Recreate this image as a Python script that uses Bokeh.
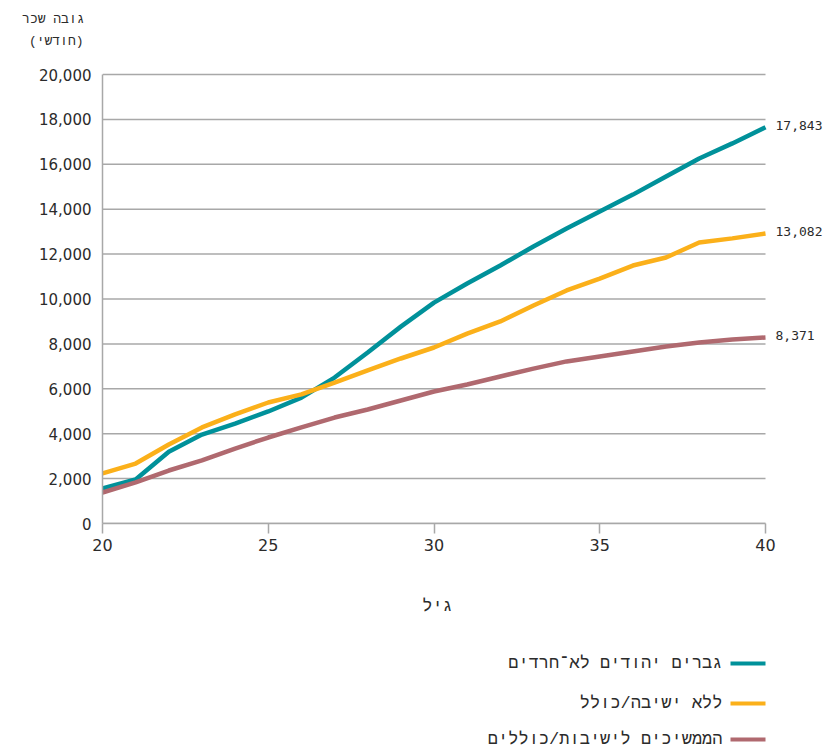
from bokeh.plotting import figure
from bokeh.models import Label, NumeralTickFormatter, FixedTicker, Range1d
from bokeh.layouts import column
from bokeh.core.properties import value
from bokeh.embed import file_html
from bokeh.resources import INLINE

# ---------------- data ----------------
ages = list(range(20, 41))
non_haredi = [1560, 1960, 3200, 3960, 4450, 4990, 5610, 6500, 7620, 8770, 9840,
              10690, 11490, 12340, 13140, 13900, 14650, 15460, 16260, 16930, 17650]
no_yeshiva = [2230, 2670, 3520, 4280, 4860, 5390, 5750, 6280, 6820, 7350, 7840,
              8460, 9000, 9710, 10380, 10910, 11490, 11850, 12520, 12700, 12920]
yeshiva = [1380, 1830, 2360, 2810, 3340, 3830, 4280, 4720, 5080, 5480, 5880,
           6190, 6550, 6900, 7220, 7440, 7660, 7880, 8060, 8200, 8285]
end_labels = ["17,843", "13,082", "8,371"]
series_names = ["גברים יהודים לא־חרדים", "ללא ישיבה/כולל", "הממשיכים לישיבות/כוללים"]
colors = ["#00919A", "#FBB01A", "#B0696F"]
y_title_lines = ["גובה שכר", "(חודשי)"]
x_title = "גיל"
y_ticks = list(range(0, 20001, 2000))
x_ticks = [20, 25, 30, 35, 40]

W = 826
TEXT = "#2b2b2b"
GRAY = "#A8A8A8"
MONO = "DejaVu Sans Mono"
HEB = "Liberation Mono"

def blank(h):
    f = figure(width=W, height=h, output_backend="svg", toolbar_location=None,
               x_range=Range1d(0, W), y_range=Range1d(h, 0),
               x_axis_location=None, y_axis_location=None,
               min_border=0, min_border_left=0, min_border_right=0,
               min_border_top=0, min_border_bottom=0)
    f.outline_line_color = None
    f.grid.visible = False
    f.frame_align = False
    return f

# ---------------- header (y title) ----------------
header = blank(60)
header.text(x=[84, 83], y=[19, 41], text=y_title_lines, text_align="right",
            text_baseline="middle", text_font=value(HEB), text_font_size="13px",
            text_color=TEXT)

# ---------------- main plot ----------------
px_per_year = (765 - 102) / 20.0
px_per_unit = 449 / 20000.0
x_end = 40 + (W - 765) / px_per_year
y_end = 20000 + 10 / px_per_unit

p = figure(width=W, height=530, output_backend="svg", toolbar_location=None,
           x_range=Range1d(20, x_end), y_range=Range1d(0, y_end),
           min_border_left=102, min_border_right=0, min_border_top=4, min_border_bottom=67)
p.outline_line_color = None
p.grid.visible = False
p.frame_align = False

# horizontal grid lines, drawn over the age span only
p.segment(x0=[20] * len(y_ticks), x1=[40] * len(y_ticks), y0=y_ticks, y1=y_ticks,
          line_color=GRAY, line_width=1.5)

p.yaxis.ticker = FixedTicker(ticks=y_ticks)
p.xaxis.ticker = FixedTicker(ticks=x_ticks)
p.yaxis.formatter = NumeralTickFormatter(format="0,0")
p.xaxis.bounds = (20, 40)
p.yaxis.bounds = (0, 20000)
for ax in (p.xaxis, p.yaxis):
    ax.axis_line_color = GRAY
    ax.axis_line_width = 1.5
    ax.major_tick_line_color = GRAY
    ax.major_tick_line_width = 1.5
    ax.minor_tick_line_color = None
    ax.major_label_text_font = "DejaVu Sans"
    ax.major_label_text_color = TEXT
p.yaxis.major_label_text_font_size = "15px"
p.xaxis.major_label_text_font_size = "16px"
p.yaxis.major_tick_out = 0
p.yaxis.major_tick_in = 0
p.yaxis.major_label_standoff = 11
p.xaxis.major_tick_out = 10
p.xaxis.major_tick_in = 0
p.xaxis.major_label_standoff = 5

for vals, col, lab in zip([non_haredi, no_yeshiva, yeshiva], colors, end_labels):
    p.line(ages, vals, line_color=col, line_width=4.5)
    p.add_layout(Label(x=ages[-1], y=vals[-1], text=lab, x_offset=10, y_offset=2,
                       text_baseline="middle", text_font=MONO,
                       text_font_size="13px", text_color=TEXT))

# ---------------- footer (x title + legend) ----------------
footer = blank(158)
footer.text(x=[437], y=[16], text=[x_title], text_align="center", text_baseline="middle",
            text_font=value(HEB), text_font_size="17px", text_color=TEXT)
row_y = [73, 113, 149]
for name, col, yy in zip(series_names, colors, row_y):
    footer.line([730, 765], [yy, yy], line_color=col, line_width=4)
footer.text(x=[722] * 3, y=row_y, text=series_names, text_align="right",
            text_baseline="middle", text_font=value(HEB), text_font_size="17px",
            text_color=TEXT)

layout = column(header, p, footer, spacing=0)
open("out.html", "w").write(file_html(layout, INLINE))
